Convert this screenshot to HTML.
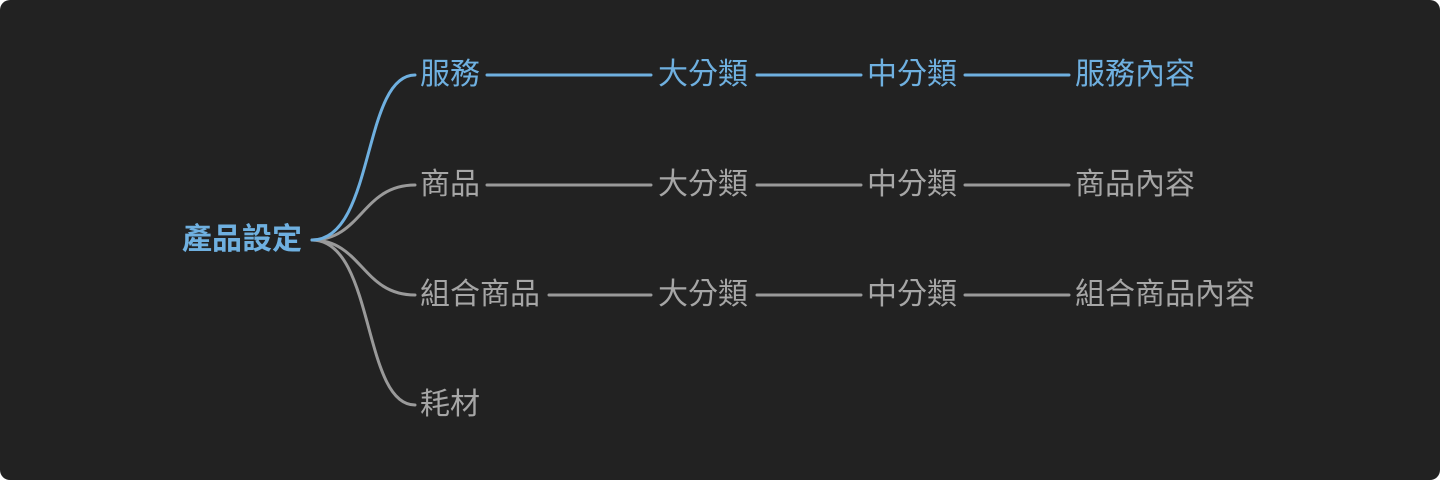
<!DOCTYPE html>
<html><head><meta charset="utf-8"><style>
html,body{margin:0;padding:0;background:#fff;}
.wrap{position:relative;width:1440px;height:480px;background:#222;border-radius:10px;overflow:hidden;font-family:"Liberation Sans","Noto Sans CJK TC",sans-serif;}
.t{position:absolute;font-size:30px;line-height:40px;color:#a6a6a6;white-space:nowrap;}
.b{color:#6fb0e0;}
svg{position:absolute;left:0;top:0;}
</style></head><body><div class="wrap">
<svg width="1440" height="480" fill="none" stroke-width="3" stroke-linecap="round">
<g stroke="#9a9a9a">
<path d="M312 240 C362 240 362 185 415 185"/>
<path d="M312 240 C362 240 362 295 415 295"/>
<path d="M312 240 C375 240 362 405 415 405"/>
<path d="M487 185H651M757 185H861M965 185H1069"/>
<path d="M549 295H651M757 295H861M965 295H1069"/>
</g>
<g stroke="#6fb0e0">
<path d="M312 240 C375 240 362 75 415 75"/>
<path d="M487 75H651M757 75H861M965 75H1069"/>
</g>
</svg>
<div class="t b" style="left:182px;top:220px;font-weight:bold;">產品設定</div>
<div class="t b" style="left:420px;top:55px">服務</div>
<div class="t b" style="left:658px;top:55px">大分類</div>
<div class="t b" style="left:867px;top:55px">中分類</div>
<div class="t b" style="left:1075px;top:55px">服務內容</div>
<div class="t" style="left:420px;top:165px">商品</div>
<div class="t" style="left:658px;top:165px">大分類</div>
<div class="t" style="left:867px;top:165px">中分類</div>
<div class="t" style="left:1075px;top:165px">商品內容</div>
<div class="t" style="left:420px;top:275px">組合商品</div>
<div class="t" style="left:658px;top:275px">大分類</div>
<div class="t" style="left:867px;top:275px">中分類</div>
<div class="t" style="left:1075px;top:275px">組合商品內容</div>
<div class="t" style="left:420px;top:385px">耗材</div>
</div></body></html>
